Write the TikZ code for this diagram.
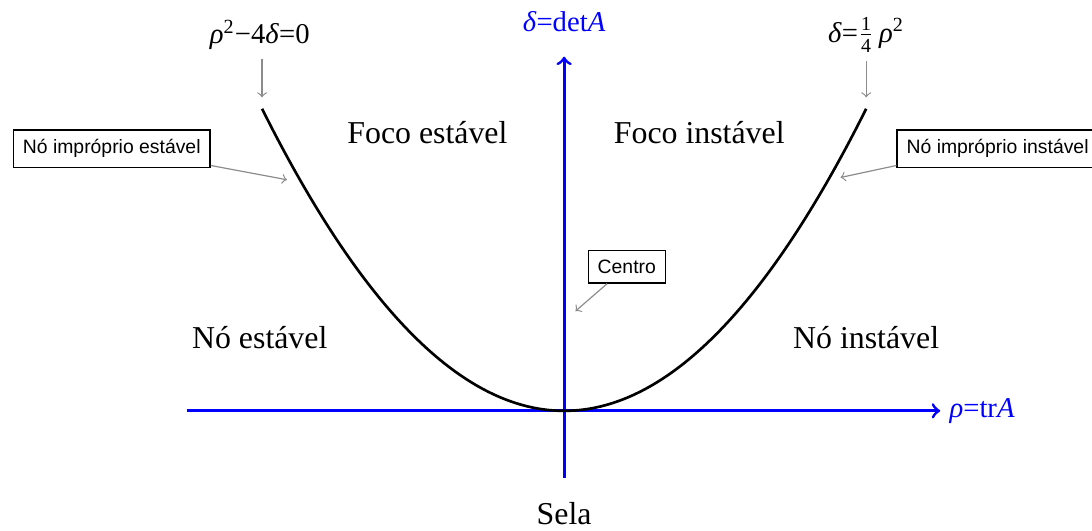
\documentclass[tikz,border=0pt]{standalone}
\usepackage{fontspec}
\setmainfont{Liberation Serif}
\setsansfont{Liberation Sans}
\usepackage{tikz}
\usetikzlibrary{calc}
\definecolor{cAxis}{HTML}{0000FF}
\definecolor{cNote}{HTML}{8C8C8C}
\newcommand{\vrho}{\textit{ρ}}
\newcommand{\vdelta}{\textit{δ}}
\newcommand{\vA}{\textit{A}}
\newcommand{\quarter}{$\frac{\mbox{\fontsize{7.5}{7.5}\selectfont 1}}{\mbox{\fontsize{7.5}{7.5}\selectfont 4}}$}

\begin{document}
\begin{tikzpicture}[
  every node/.style={font=\fontsize{12}{14}\selectfont},
  axis/.style={draw=cAxis, line width=1.1pt, ->},
  curve/.style={draw=black, line width=1pt},
  eq/.style={font=\fontsize{10.8}{13}\selectfont},
  note/.style={draw, fill=white, line width=0.5pt, inner sep=3.6pt,
    font=\sffamily\fontsize{7.3}{8.5}\selectfont},
  pointer/.style={draw=cNote, line width=0.45pt, ->},
]
\useasboundingbox (-7.47,-1.59) rectangle (6.99,5.44);

% ─── AXES ───
\coordinate (xmin) at (-5,0);
\coordinate (xmax) at (4.98,0);
\coordinate (ymin) at (0,-0.89);
\coordinate (ymax) at (0,4.69);
\draw[axis] (xmin) -- (xmax);
\draw[axis] (ymin) -- (ymax);
\node[eq, text=cAxis, right] (rho) at (xmax) {\vrho=tr\vA};
\node[eq, text=cAxis] (delta) at (0,5.15) {\vdelta=det\vA};

% ─── PARABOLA ───
\draw[curve] plot[domain=-4:4, samples=60, smooth] (\x,{\x*\x/4});
\coordinate (pl) at (-4,4.15);
\coordinate (pr) at (4,4.15);

% ─── REGIONS ───
\node (fe) at (-1.81,3.68) {Foco estável};
\node (fi) at (1.79,3.68) {Foco instável};
\node (ne) at (-4.03,0.97) {Nó estável};
\node (ni) at (4.0,0.97) {Nó instável};
\node (sela) at (0,-1.36) {Sela};

% ─── EQUATIONS ───
\node[eq] (eql) at (-4.03,4.98) {\vrho\textsuperscript{2}−4\vdelta=0};
\node[eq] (eqr) at (4.0,4.98) {\vdelta=\quarter\,\vrho\textsuperscript{2}};
\draw[pointer] (eql.south -| pl) -- (pl);
\draw[pointer] (eqr.south -| pr) -- (pr);

% ─── NOTES ───
\node[note] (nie) at (-5.99,3.47) {Nó impróprio estável};
\node[note, anchor=west] (nii) at (4.40,3.47) {Nó impróprio instável};
\node[note] (centro) at (0.83,1.91) {Centro};
\coordinate (ae) at (-3.67,3.06);
\coordinate (ai) at (3.66,3.09);
\coordinate (ac) at (0.15,1.32);
\draw[pointer] ([yshift=1pt]nie.south east) -- (ae);
\draw[pointer] ([yshift=1pt]nii.south west) -- (ai);
\draw[pointer] ($(centro.south)!0.5!(centro.south west)$) -- (ac);

\end{tikzpicture}
\end{document}
